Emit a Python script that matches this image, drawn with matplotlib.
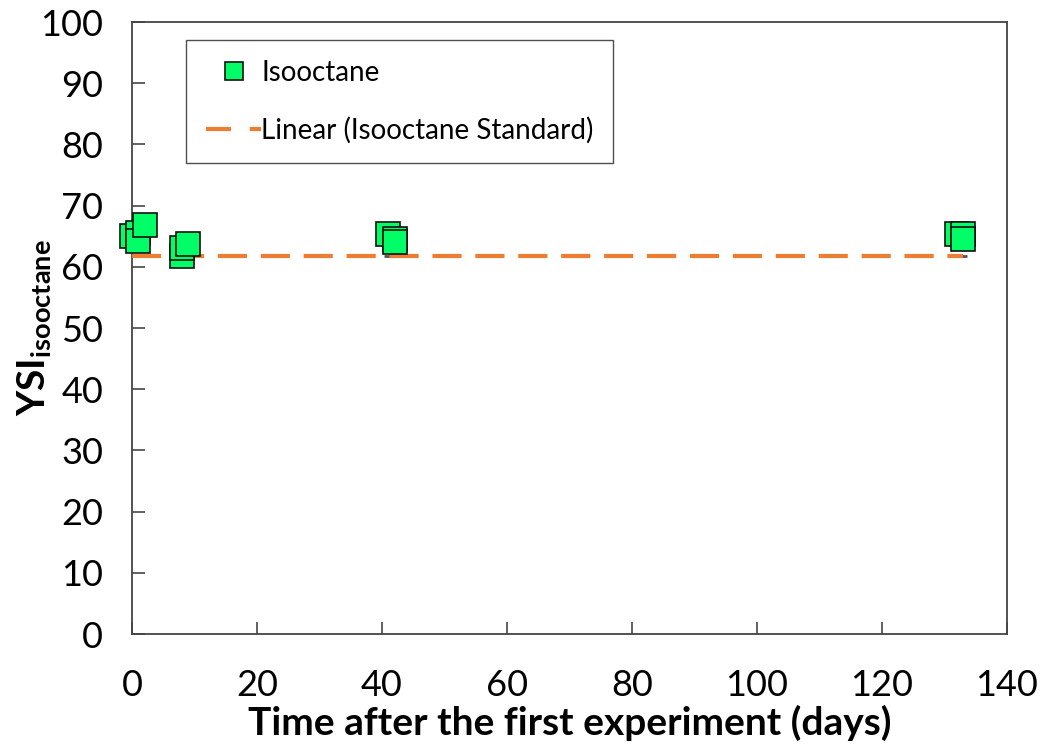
import matplotlib
matplotlib.use("Agg")
import matplotlib.pyplot as plt
from matplotlib.lines import Line2D

plt.rcParams['font.family'] = ['Lato', 'DejaVu Sans']
plt.rcParams['mathtext.fontset'] = 'custom'
plt.rcParams['mathtext.rm'] = 'Lato'
plt.rcParams['mathtext.bf'] = 'Lato:bold'

# data
days = [0, 1, 1, 2, 8, 8, 9, 41, 42, 42, 132, 133, 133]
ysi = [65.0, 65.5, 64.3, 66.8, 61.7, 63.0, 63.7, 65.3, 64.6, 64.1, 65.3, 65.4, 64.5]
std_days = [2, 8, 41.5, 132.5]
std_ysi = [61.7, 61.7, 61.7, 61.7]
trend_x = [0, 133]
trend_y = [61.7, 61.7]
xticks = [0, 20, 40, 60, 80, 100, 120, 140]
yticks = [0, 10, 20, 30, 40, 50, 60, 70, 80, 90, 100]

fig = plt.figure(figsize=(10.41, 7.49), dpi=100)
ax = fig.add_axes([0.127, 0.1535, 0.840, 0.8171])

ax.plot(std_days, std_ysi, linestyle='none', marker='_', markersize=10,
        markeredgecolor='#555555', markeredgewidth=2, zorder=2)
ax.plot(trend_x, trend_y, color='#ED7D31', linewidth=3, dashes=(7, 3.3), zorder=3)
for xv, yv in zip(days, ysi):
    ax.plot([xv], [yv], linestyle='none', marker='s', markersize=17.5,
            markerfacecolor='#00FF66', markeredgecolor='#111111',
            markeredgewidth=1.2, zorder=4, clip_on=False)

ax.set_xlim(0, 140)
ax.set_ylim(0, 100)
ax.set_xticks(xticks)
ax.set_yticks(yticks)
ax.tick_params(direction='in', length=9, width=1.3, labelsize=26, color='#555555')
ax.tick_params(axis='x', pad=25)
ax.tick_params(axis='y', pad=21)
for s in ax.spines.values():
    s.set_color('#444444')
    s.set_linewidth(1.3)

ax.set_xlabel('Time after the first experiment (days)', fontsize=28, fontweight='bold', labelpad=2)
ax.set_ylabel(r'$\mathbf{YSI}_{\mathbf{isooctane}}$', fontsize=28, labelpad=-10)

handles = [
    Line2D([], [], linestyle='none', marker='s', markersize=13,
           markerfacecolor='#00FF66', markeredgecolor='#111111', markeredgewidth=1.2),
    Line2D([], [], color='#ED7D31', linewidth=3, dashes=(6, 4.5)),
]
leg = ax.legend(handles, ['Isooctane', 'Linear (Isooctane Standard)'],
                loc='upper left', bbox_to_anchor=(0.062, 0.97), fontsize=20,
                frameon=True, fancybox=False, edgecolor='#222222',
                borderpad=0.7, labelspacing=1.1, handlelength=2.0, handletextpad=0.0,
                borderaxespad=0)
leg.get_frame().set_linewidth(1.0)

fig.savefig('out.png', dpi=100)
